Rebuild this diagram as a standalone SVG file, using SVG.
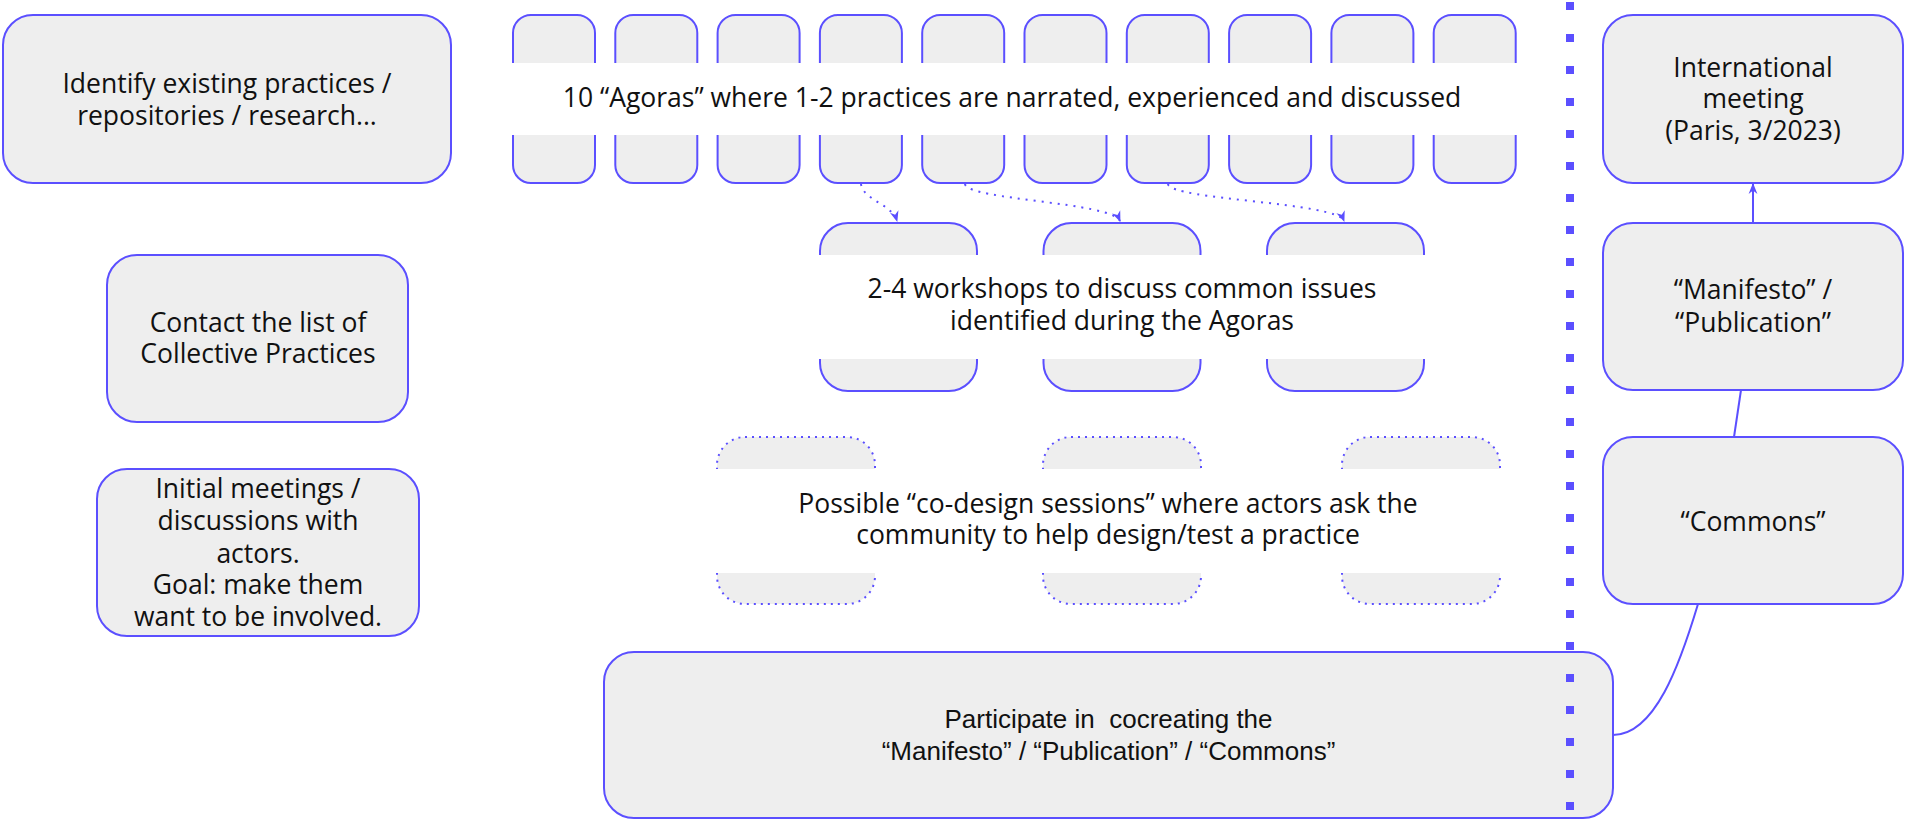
<svg xmlns="http://www.w3.org/2000/svg" width="1905" height="819" viewBox="0 0 1905 819">
<style>
.box{fill:#eeeeee;stroke:#5b4fff;stroke-width:2}
.dbox{fill:#eeeeee;stroke:#5b4fff;stroke-width:2;stroke-dasharray:2 5}
.band{fill:#ffffff}
.t{font-family:"Open Sans","Noto Sans","DejaVu Sans",sans-serif;font-size:26.5px;fill:#111111;text-anchor:middle}
.ta{font-family:"Liberation Sans",Arial,sans-serif;font-size:26px;fill:#111111;text-anchor:middle}
.conn{fill:none;stroke:#5b4fff;stroke-width:2}
.dconn{fill:none;stroke:#5b4fff;stroke-width:2;stroke-dasharray:2 6}
</style>
<defs>
<marker id="arr" viewBox="0 0 10 10" refX="9" refY="5" markerWidth="11" markerHeight="11" markerUnits="userSpaceOnUse" orient="auto">
<path d="M0,1 L10,5 L0,9 L3,5 z" fill="#5b4fff"/>
</marker>
</defs>

<g id="identify">
<rect class="box" x="3" y="15" width="448" height="168" rx="30"/>
<text class="t" x="227" y="93">Identify existing practices /</text>
<text class="t" x="227" y="125">repositories / research...</text>
</g>

<g id="contact">
<rect class="box" x="107" y="255" width="301" height="167" rx="30"/>
<text class="t" x="258" y="332">Contact the list of</text>
<text class="t" x="258" y="363">Collective Practices</text>
</g>

<g id="initial">
<rect class="box" x="97" y="469" width="322" height="167" rx="30"/>
<text class="t" x="258" y="498">Initial meetings /</text>
<text class="t" x="258" y="530">discussions with</text>
<text class="t" x="258" y="563">actors.</text>
<text class="t" x="258" y="594">Goal: make them</text>
<text class="t" x="258" y="626">want to be involved.</text>
</g>

<g id="agoras">
<rect class="box" x="513" y="15" width="82" height="168" rx="18"/>
<rect class="box" x="615.3" y="15" width="82" height="168" rx="18"/>
<rect class="box" x="717.6" y="15" width="82" height="168" rx="18"/>
<rect class="box" x="819.9" y="15" width="82" height="168" rx="18"/>
<rect class="box" x="922.2" y="15" width="82" height="168" rx="18"/>
<rect class="box" x="1024.5" y="15" width="82" height="168" rx="18"/>
<rect class="box" x="1126.8" y="15" width="82" height="168" rx="18"/>
<rect class="box" x="1229.1" y="15" width="82" height="168" rx="18"/>
<rect class="box" x="1331.4" y="15" width="82" height="168" rx="18"/>
<rect class="box" x="1433.7" y="15" width="82" height="168" rx="18"/>
<rect class="band" x="510" y="63" width="1009" height="72"/>
<text class="t" x="1012" y="107">10 “Agoras” where 1-2 practices are narrated, experienced and discussed</text>
</g>

<g id="workshops">
<rect class="box" x="820" y="223" width="157" height="168" rx="28"/>
<rect class="box" x="1043.5" y="223" width="157" height="168" rx="28"/>
<rect class="box" x="1267" y="223" width="157" height="168" rx="28"/>
<rect class="band" x="817" y="255" width="610" height="104"/>
<text class="t" x="1122" y="298">2-4 workshops to discuss common issues</text>
<text class="t" x="1122" y="330">identified during the Agoras</text>
</g>

<g id="codesign">
<rect class="dbox" x="717" y="437" width="158" height="167" rx="28"/>
<rect class="dbox" x="1043" y="437" width="158" height="167" rx="28"/>
<rect class="dbox" x="1342" y="437" width="158" height="167" rx="28"/>
<rect class="band" x="713" y="469" width="791" height="104"/>
<text class="t" x="1108" y="513">Possible “co-design sessions” where actors ask the</text>
<text class="t" x="1108" y="544">community to help design/test a practice</text>
</g>

<g id="international">
<rect class="box" x="1603" y="15" width="300" height="168" rx="30"/>
<text class="t" x="1753" y="77">International</text>
<text class="t" x="1753" y="108">meeting</text>
<text class="t" x="1753" y="140">(Paris, 3/2023)</text>
</g>

<g id="manifesto">
<rect class="box" x="1603" y="223" width="300" height="167" rx="30"/>
<text class="t" x="1753" y="299">“Manifesto” /</text>
<text class="t" x="1753" y="332">“Publication”</text>
</g>

<g id="commons">
<rect class="box" x="1603" y="437" width="300" height="167" rx="30"/>
<text class="t" x="1753" y="531">“Commons”</text>
</g>

<g id="participate">
<rect class="box" x="604" y="652" width="1009" height="166" rx="30"/>
<text class="ta" x="1108.5" y="728" xml:space="preserve">Participate in  cocreating the</text>
<text class="ta" x="1108.5" y="760">“Manifesto” / “Publication” / “Commons”</text>
</g>

<g id="connectors">
<path class="dconn" d="M861,184 C863,200 892,204 897,221" marker-end="url(#arr)"/>
<path class="dconn" d="M965,184 C967,200 1112,202 1120,221" marker-end="url(#arr)"/>
<path class="dconn" d="M1168,184 C1170,200 1337,202 1344,221" marker-end="url(#arr)"/>
<line class="conn" x1="1753" y1="223" x2="1753" y2="184" marker-end="url(#arr)"/>
<line class="conn" x1="1734" y1="437" x2="1741" y2="390"/>
<path class="conn" d="M1613,735 C1655,735 1680,664 1698,604"/>
</g>

<g id="divider">
<line x1="1570" y1="2" x2="1570" y2="819" stroke="#5b4fff" stroke-width="8" stroke-dasharray="8 24"/>
</g>
</svg>
